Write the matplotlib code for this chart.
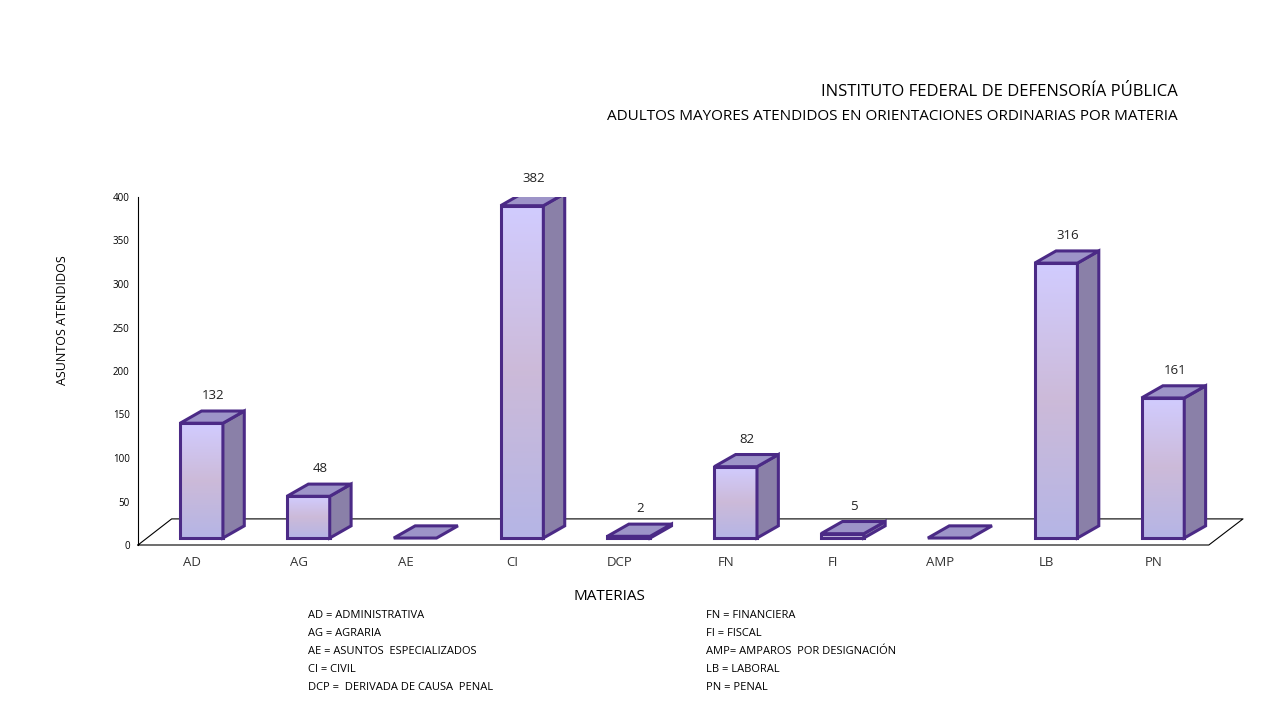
import matplotlib
matplotlib.use("Agg")
import matplotlib.pyplot as plt
import numpy as np
from matplotlib.patches import Polygon

categories = ["AD", "AG", "AE", "CI", "DCP", "FN", "FI", "AMP", "LB", "PN"]
values = [132, 48, 0, 382, 2, 82, 5, 0, 316, 161]
yticks = [0, 50, 100, 150, 200, 250, 300, 350, 400]
legend_left = ["AD = ADMINISTRATIVA", "AG = AGRARIA", "AE = ASUNTOS  ESPECIALIZADOS",
               "CI = CIVIL", "DCP =  DERIVADA DE CAUSA  PENAL"]
legend_right = ["FN = FINANCIERA", "FI = FISCAL", "AMP= AMPAROS  POR DESIGNACIÓN",
                "LB = LABORAL", "PN = PENAL"]

plt.rcParams['font.family'] = ['Open Sans', 'DejaVu Sans']
fig = plt.figure(figsize=(12.8, 7.2), dpi=100)
W, H = 1280, 720
ax = fig.add_axes([138/W, (H-545)/H, (1243-138)/W, (545-197)/H])
ax.set_xlim(-0.505, 9.84)
ax.set_ylim(0, 400)
for s in ["top", "right", "bottom"]:
    ax.spines[s].set_visible(False)
ax.spines["left"].set_color("black")
ax.spines["left"].set_linewidth(0.8)
ax.set_xticks([])
ax.set_yticks(yticks)
ax.tick_params(axis='y', length=0, labelsize=7, pad=6)

base = 8
dx, dy = 0.2, 14
# floor
ax.plot([-0.505, 9.52, 9.84, -0.19, -0.505], [0, 0, 30, 30, 0], color="black", lw=0.8, clip_on=False)

edge = "#4b2a86"
grad = np.array([[0.71, 0.71, 0.90], [0.80, 0.73, 0.85], [0.82, 0.80, 1.0]])
t = np.linspace(0, 1, 256)
img = np.zeros((256, 1, 3))
for c in range(3):
    img[:, 0, c] = np.interp(t, [0, 0.5, 1], grad[:, c])

for i, v in enumerate(values):
    x0, x1 = i - 0.11, i + 0.29
    top = base + v
    if v > 0:
        front = Polygon([[x0, base], [x1, base], [x1, top], [x0, top]], closed=True,
                        fc="none", ec=edge, lw=2.2, zorder=4)
        im = ax.imshow(img, extent=[x0, x1, base, top], origin="lower", aspect="auto", zorder=3)
        ax.add_patch(front)
        im.set_clip_path(front)
        side = Polygon([[x1, base], [x1+dx, base+dy], [x1+dx, top+dy], [x1, top]],
                       closed=True, fc="#8a80a8", ec=edge, lw=2.2, zorder=4)
        ax.add_patch(side)
    topf = Polygon([[x0, top], [x1, top], [x1+dx, top+dy], [x0+dx, top+dy]],
                   closed=True, fc="#9d94c8", ec=edge, lw=2.2, zorder=5)
    ax.add_patch(topf)
    if v > 0:
        ax.text(i + 0.2, top + dy + 10, str(v), ha="center", va="bottom", fontsize=9.5, color="#222")
    ax.text(i, -20, categories[i], ha="center", va="center", fontsize=9.5, color="#333")
ax.set_xlim(-0.505, 9.84)
ax.set_ylim(0, 400)

fig.text(1178/W, 1-92/H, "INSTITUTO FEDERAL DE DEFENSORÍA PÚBLICA", ha="right", va="center", fontsize=12)
fig.text(1178/W, 1-116/H, "ADULTOS MAYORES ATENDIDOS EN ORIENTACIONES ORDINARIAS POR MATERIA",
         ha="right", va="center", fontsize=11)
fig.text(609/W, 1-596/H, "MATERIAS", ha="center", va="center", fontsize=11)
fig.text(63/W, 1-320/H, "ASUNTOS ATENDIDOS", ha="center", va="center", rotation=90, fontsize=9,
         family=['Liberation Sans Narrow', 'Open Sans'])
for k, (a, b) in enumerate(zip(legend_left, legend_right)):
    y = 1 - (616 + 18*k)/H
    fig.text(308/W, y, a, ha="left", va="center", fontsize=8)
    fig.text(706/W, y, b, ha="left", va="center", fontsize=8)

fig.savefig("out.png", dpi=100)
